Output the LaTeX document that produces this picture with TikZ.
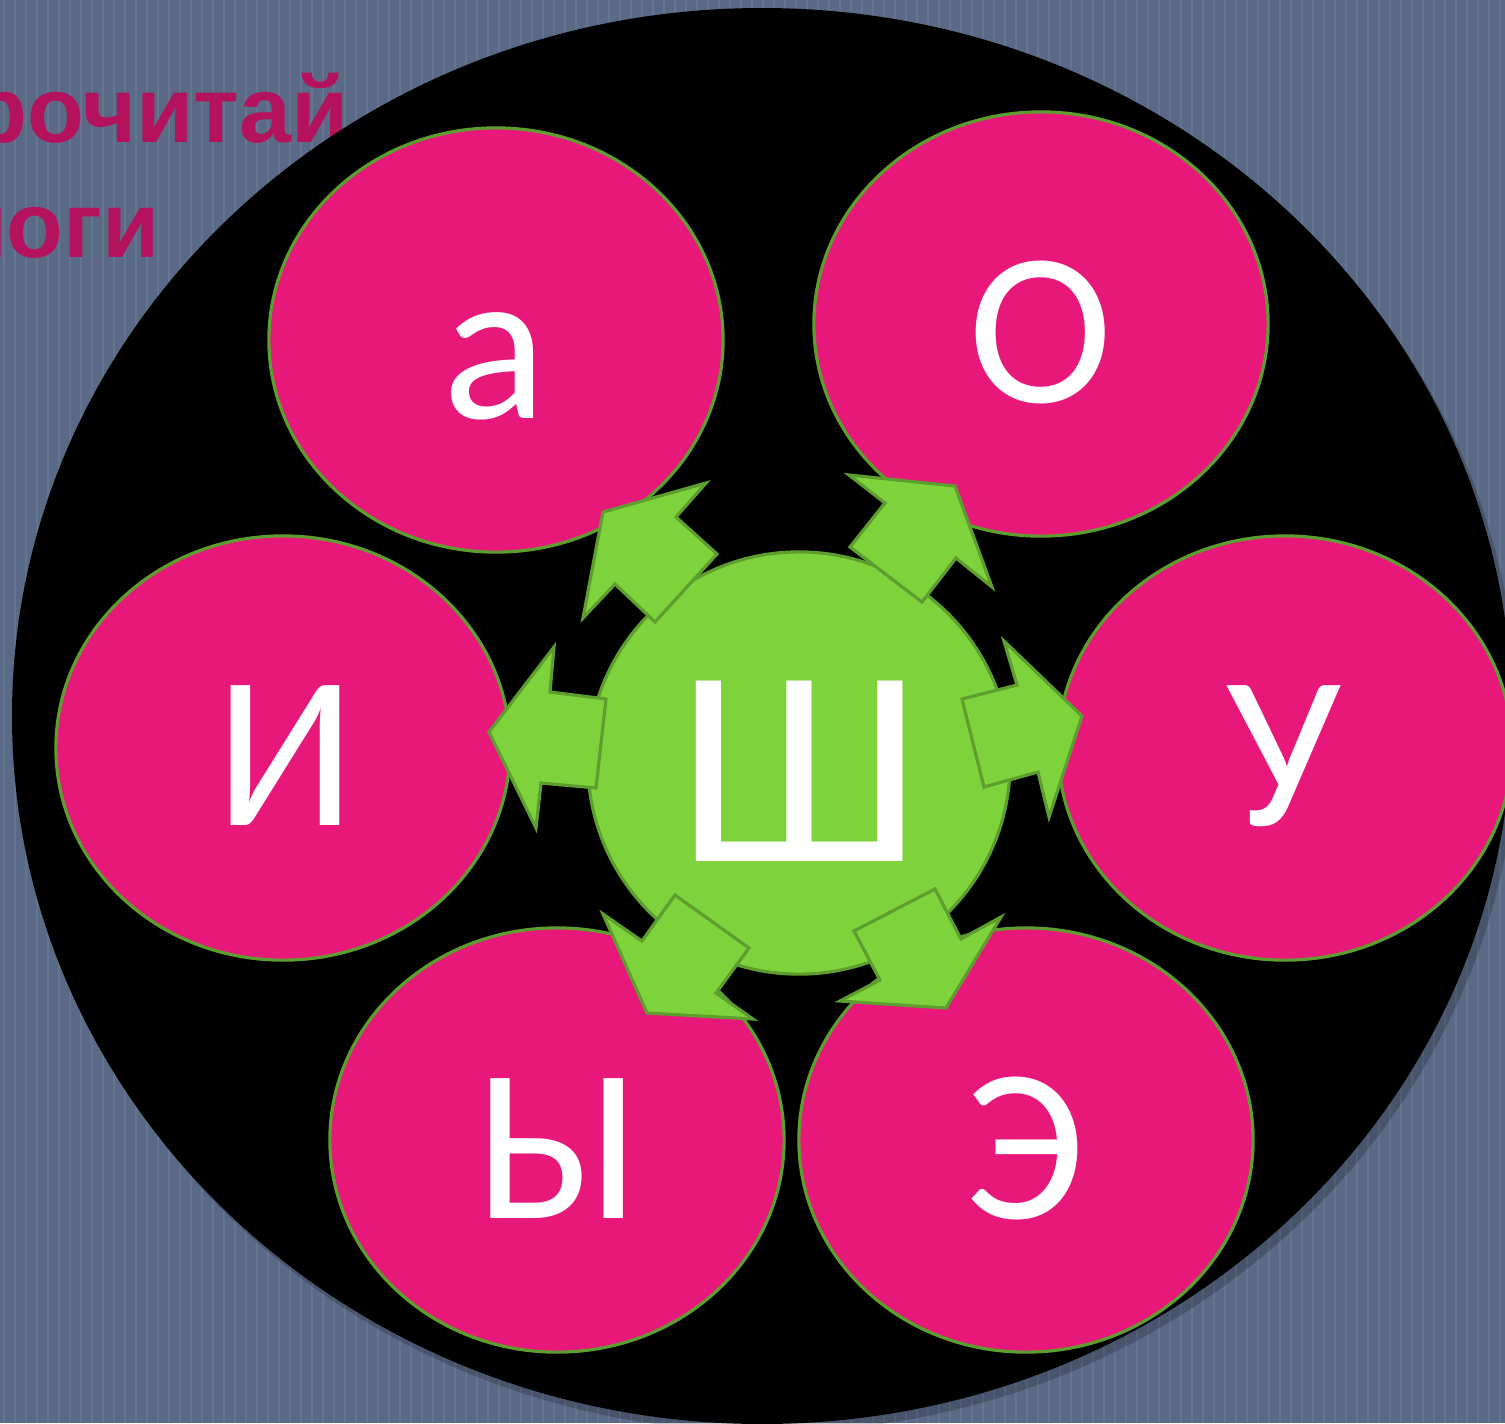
\documentclass[tikz,border=0pt]{standalone}
\usepackage{fontspec}
\setmainfont{Carlito}
\newfontfamily\titlefont{Liberation Sans}
\usetikzlibrary{shapes.geometric}

\definecolor{slate}{HTML}{5A6A86}
\definecolor{slatelight}{HTML}{65758F}
\definecolor{berry}{HTML}{B5125E}
\definecolor{ballpink}{HTML}{E8187B}
\definecolor{leafline}{HTML}{5E9E2E}
\definecolor{leaf}{HTML}{7ED33C}

\tikzset{
  pinkball/.style={ellipse, draw=leafline, fill=ballpink, line width=0.9pt,
    minimum width=4.54cm, minimum height=4.24cm, inner sep=0pt},
  greenball/.style={circle, draw=leafline, fill=leaf, line width=0.9pt,
    minimum size=4.22cm, inner sep=0pt},
  greenarrow/.style={draw=leafline, fill=leaf, line width=0.9pt, line join=miter},
  letter/.style={text=white, inner sep=0pt, anchor=base,
    font=\fontsize{62}{62}\selectfont},
  titletext/.style={text=berry, inner sep=0pt, anchor=base east,
    font=\titlefont\bfseries\fontsize{26.5}{26.5}\selectfont}
}

\begin{document}
\begin{tikzpicture}[x=0.01cm, y=-0.01cm]
    % Фон слайда (в пикселях)
    \useasboundingbox (0,0) rectangle (1505,1423);
    \clip (0,0) rectangle (1505,1423);
    \fill[slate] (0,0) rectangle (1505,1423);
    \foreach \sx in {4,15,...,1505}
        \draw[slatelight, line width=0.35pt] (\sx,0) -- (\sx,1423);

    % Заголовок (левый край срезан, как на слайде)
    \node[titletext] (line1) at (349,142) {Прочитай};
    \node[titletext] (line2) at (160,257) {слоги};

    % Чёрный круг с тенью
    \fill[black, opacity=0.2] (768,724) ellipse [x radius=750, y radius=708];
    \fill[black] (762,716) ellipse [x radius=750, y radius=708];

    % Гласные
    \node[pinkball] (ballA) at (496,340) {};
    \node[pinkball] (ballO) at (1041,324) {};
    \node[pinkball] (ballI) at (283,748) {};
    \node[pinkball] (ballU) at (1285,748) {};
    \node[pinkball] (ballY) at (557,1140) {};
    \node[pinkball] (ballE) at (1026,1140) {};

    % Центр
    \node[greenball] (ballSh) at (799,763) {};

    % Стрелки от центра
    \draw[greenarrow] (603,512) -- (706,483) -- (676,517) -- (717,554) -- (655,622) -- (615,584) -- (583,618) -- cycle;
    \draw[greenarrow] (849,475) -- (955,486) -- (992,587) -- (956,558) -- (922,602) -- (850,547) -- (885,503) -- cycle;
    \draw[greenarrow] (554,647) -- (550,692) -- (606,699) -- (596,788) -- (541,783) -- (536,828) -- (489,732) -- cycle;
    \draw[greenarrow] (1004,641) -- (1017,685) -- (962,699) -- (984,787) -- (1038,772) -- (1049,817) -- (1082,716) -- cycle;
    \draw[greenarrow] (603,914) -- (642,941) -- (675,895) -- (749,948) -- (716,993) -- (753,1019) -- (647,1013) -- cycle;
    \draw[greenarrow] (935,889) -- (961,939) -- (1001,917) -- (946,1008) -- (840,1001) -- (880,980) -- (854,931) -- cycle;

    % Буквы
    \node[letter] (txtA) at (495,418) {а};
    \node[letter] (txtO) at (1041,402) {О};
    \node[letter] (txtI) at (285,825) {И};
    \node[letter] (txtU) at (1284,825) {У};
    \node[letter] (txtY) at (557,1218) {Ы};
    \node[letter] (txtE) at (1025,1218) {Э};
    \node[letter, font=\fontsize{80}{80}\selectfont] (txtSh) at (800,861) {Ш};
\end{tikzpicture}
\end{document}
